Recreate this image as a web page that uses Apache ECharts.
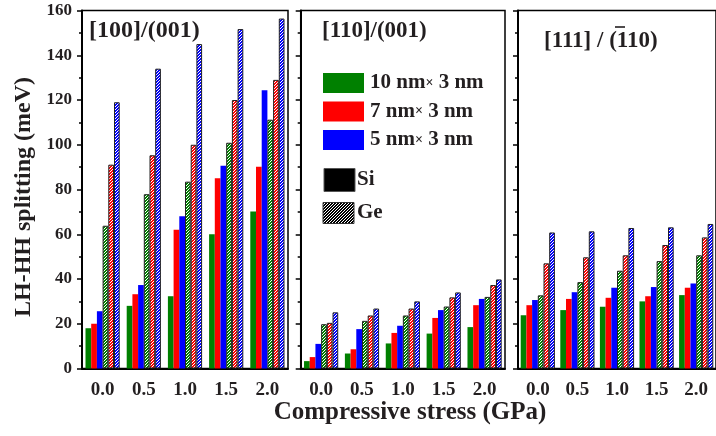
<!DOCTYPE html>
<html>
<head>
<meta charset="utf-8">
<script src="https://cdn.jsdelivr.net/npm/echarts@6/dist/echarts.min.js"></script>
<style>
  html, body { margin: 0; padding: 0; background: #fff; }
  #chart { width: 716px; height: 436px; }
</style>
</head>
<body>
<div id="chart"></div>
<script>
// stress values (GPa), same for the three panels
const stress = ['0.0', '0.5', '1.0', '1.5', '2.0'];

// [100]/(001)
const si100_10 = [18, 28, 32.3, 60, 70.2];
const si100_7 = [20, 33.2, 62, 85, 90.2];
const si100_5 = [25.6, 37.3, 68.1, 90.6, 124.4];
const ge100_10 = [63.8, 77.9, 83.5, 100.9, 111.2];
const ge100_7 = [91.1, 95.3, 100, 120, 129];
const ge100_5 = [119, 134, 145, 151.7, 156.4];

// [110]/(001)
const si110_10 = [3.3, 6.7, 11.2, 15.6, 18.5];
const si110_7 = [5.1, 8.6, 15.9, 22.6, 28.3];
const si110_5 = [11, 17.6, 19.1, 26.1, 31.1];
const ge110_10 = [19.8, 21.3, 23.7, 27.7, 32];
const ge110_7 = [20.4, 23.7, 26.8, 31.8, 37.3];
const ge110_5 = [25.1, 26.8, 30, 34, 39.8];

// [111]/(-110)
const si111_10 = [23.8, 26.1, 27.6, 30, 32.8];
const si111_7 = [28.3, 31.1, 31.6, 32.3, 36.1];
const si111_5 = [30.6, 34.1, 36.1, 36.4, 38];
const ge111_10 = [32.7, 38.6, 43.7, 48, 50.6];
const ge111_7 = [47, 49.7, 50.6, 55.2, 58.6];
const ge111_5 = [60.8, 61.3, 62.8, 63.1, 64.6];

const panels = [
    [si100_10, si100_7, si100_5, ge100_10, ge100_7, ge100_5],
    [si110_10, si110_7, si110_5, ge110_10, ge110_7, ge110_5],
    [si111_10, si111_7, si111_5, ge111_10, ge111_7, ge111_5],
];

const colors = ['#008000', '#ff0000', '#0000ff'];
const textColor = '#231f20';
const serif = '"Liberation Serif", "Times New Roman", serif';

// diagonal "/" stripes, colour on white
function hatch(color) {
    const c = document.createElement('canvas');
    c.width = 3; c.height = 3;
    const ctx = c.getContext('2d');
    for (let y = 0; y < 3; y++) {
        for (let x = 0; x < 3; x++) {
            ctx.fillStyle = ((x + y) % 3 < 2) ? color : '#ffffff';
            ctx.fillRect(x, y, 1, 1);
        }
    }
    return { image: c, repeat: 'repeat' };
}

const gridPos = [
    { left: 82, width: 206 },
    { left: 300.7, width: 204.3 },
    { left: 518, width: 205 },
];

const grids = gridPos.map(g => ({
    left: g.left, width: g.width, top: 10.5, height: 358,
    show: true, borderColor: '#000', borderWidth: 1.5, backgroundColor: 'transparent'
}));

const xAxes = gridPos.map((g, i) => ({
    type: 'category', gridIndex: i, data: stress,
    axisLine: { lineStyle: { color: '#000', width: 2 } },
    axisTick: { alignWithLabel: true, length: 5, lineStyle: { color: '#000', width: 1.5 } },
    axisLabel: { color: textColor, fontFamily: serif, fontWeight: 'bold', fontSize: 19, margin: 12 },
    splitLine: { show: false }
}));

const yAxes = gridPos.map((g, i) => ({
    type: 'value', gridIndex: i, min: 0, max: 160, interval: 20,
    axisLine: { show: true, lineStyle: { color: '#000', width: 2 } },
    axisTick: { show: true, length: 5, lineStyle: { color: '#000', width: 1.5 } },
    minorTick: { show: true, splitNumber: 2, length: 3, lineStyle: { color: '#000', width: 1.5 } },
    axisLabel: { show: i === 0, color: textColor, fontFamily: serif, fontWeight: 'bold', fontSize: 17, margin: 10 },
    splitLine: { show: false }
}));

const series = [];
panels.forEach((sets, p) => {
    sets.forEach((vals, k) => {
        const isGe = k >= 3;
        const col = colors[k % 3];
        series.push({
            type: 'bar', xAxisIndex: p, yAxisIndex: p,
            data: vals,
            barWidth: 5.7, barGap: '0%',
            itemStyle: isGe
                ? { color: hatch(col), borderColor: '#222', borderWidth: 1 }
                : { color: col },
            emphasis: { disabled: true },
            animation: false
        });
    });
});

function txt(x, y, text, size, align) {
    return {
        type: 'text', x: x, y: y,
        style: {
            text: text, fill: textColor,
            font: 'bold ' + size + 'px ' + serif,
            align: align || 'left', verticalAlign: 'middle'
        }
    };
}

const sizeRich = {
    a: { fontFamily: serif, fontWeight: 'bold', fontSize: 21, fill: textColor },
    b: { fontFamily: serif, fontWeight: 'bold', fontSize: 14, fill: textColor }
};

function legendText(x, y, n) {
    return {
        type: 'text', x: x, y: y,
        style: {
            text: '{a|' + n + ' nm}{b|×}{a| 3 nm}',
            rich: sizeRich, align: 'left', verticalAlign: 'middle'
        }
    };
}

const graphic = [
    // panel titles
    txt(89, 31, '[100]/(001)', 24),
    txt(322, 31, '[110]/(001)', 23),
    txt(544, 41, '[111] / (110)', 23),
    { type: 'line', shape: { x1: 615, y1: 27, x2: 625, y2: 27 }, style: { stroke: textColor, lineWidth: 1.6 } },

    // legend
    { type: 'rect', shape: { x: 323, y: 73, width: 41, height: 20 }, style: { fill: colors[0] } },
    { type: 'rect', shape: { x: 323, y: 101.5, width: 41, height: 20 }, style: { fill: colors[1] } },
    { type: 'rect', shape: { x: 323, y: 130, width: 41, height: 20 }, style: { fill: colors[2] } },
    legendText(370, 83, '10'),
    legendText(370, 111.5, '7'),
    legendText(370, 140, '5'),
    { type: 'rect', shape: { x: 324, y: 168.5, width: 31, height: 23 }, style: { fill: '#000', stroke: '#555', lineWidth: 1 } },
    txt(357, 180, 'Si', 21),
    { type: 'rect', shape: { x: 323, y: 202.5, width: 31, height: 21 }, style: { fill: hatch('#000'), stroke: '#333', lineWidth: 1 } },
    txt(357, 213, 'Ge', 21),

    // axis titles
    txt(410, 413, 'Compressive stress (GPa)', 25, 'center'),
    { type: 'text', x: 24, y: 197, rotation: Math.PI / 2,
      style: { text: 'LH-HH splitting (meV)', fill: textColor, font: 'bold 24px ' + serif,
               align: 'center', verticalAlign: 'middle' } }
];

const chart = echarts.init(document.getElementById('chart'));
chart.setOption({
    animation: false,
    backgroundColor: '#fff',
    grid: grids,
    xAxis: xAxes,
    yAxis: yAxes,
    series: series,
    graphic: graphic
});
</script>
</body>
</html>
